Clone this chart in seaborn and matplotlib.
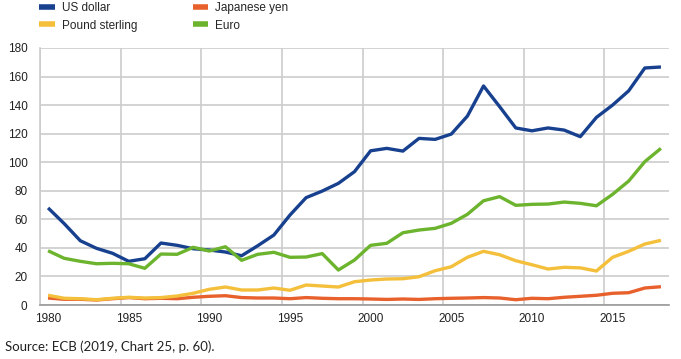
import matplotlib
matplotlib.use("Agg")
import matplotlib.pyplot as plt
import seaborn as sns
import pandas as pd
import numpy as np
from matplotlib.lines import Line2D

years = list(range(1980, 2019))
us_dollar = [68, 57, 45, 39.7, 36.2, 30.6, 32.4, 43.4, 41.8, 39.4, 38.5, 37.1, 34.5, 41.5, 49,
             63, 75.2, 79.8, 85.2, 93.4, 108, 109.7, 107.8, 116.7, 116, 119.7, 132.3, 153.4,
             138.9, 124, 122, 124, 122.5, 117.9, 131.4, 140, 150, 166, 166.7]
japanese_yen = [4.9, 4.0, 4.0, 3.5, 4.4, 5.2, 4.4, 4.7, 4.4, 5.4, 6.1, 6.5, 5.2, 4.9, 4.9,
                4.4, 5.2, 4.7, 4.4, 4.4, 4.2, 3.9, 4.2, 3.9, 4.4, 4.7, 4.9, 5.2, 4.9, 3.7,
                4.7, 4.4, 5.4, 6.1, 6.8, 8.2, 8.6, 11.9, 12.8]
pound_sterling = [6.8, 4.7, 4.4, 3.7, 4.7, 5.4, 4.9, 5.2, 6.3, 8.2, 11, 12.6, 10.5, 10.5, 11.9,
                  10.3, 14, 13.3, 12.6, 16.3, 17.5, 18.2, 18.4, 19.8, 24, 26.8, 33.4, 37.6,
                  35.2, 31, 28.2, 25.2, 26.4, 26, 23.8, 33.4, 37.6, 42.7, 45.3]
euro = [38, 32.7, 30.6, 28.9, 29.2, 28.9, 25.7, 35.7, 35.5, 40.4, 37.8, 40.8, 31.3, 35.5, 36.9,
        33.4, 33.6, 36, 24.5, 31.5, 41.8, 43.2, 50.6, 52.5, 53.7, 57.2, 63.5, 73, 75.9, 69.8,
        70.5, 70.7, 72.1, 71.2, 69.5, 77.5, 86.8, 100.4, 109.7]

series_names = ["US dollar", "Japanese yen", "Pound sterling", "Euro"]
series_values = [us_dollar, japanese_yen, pound_sterling, euro]
colors = ["#17408f", "#e8612c", "#f4bf3a", "#6cb42d"]
x_tick_labels = [1980, 1985, 1990, 1995, 2000, 2005, 2010, 2015]
y_ticks = list(range(0, 181, 20))

df = pd.concat([pd.DataFrame({"year": years, "value": v, "currency": n})
                for n, v in zip(series_names, series_values)], ignore_index=True)

sns.set_style("white")
plt.rcParams["font.family"] = ["Liberation Sans", "DejaVu Sans"]

fig = plt.figure(figsize=(6.81, 3.59), dpi=100)
ax = fig.add_axes([40 / 681, 54 / 359, 629 / 681, 257 / 359])

sns.lineplot(data=df, x="year", y="value", hue="currency", hue_order=series_names,
             palette=colors, linewidth=2.4, ax=ax, legend=False, solid_capstyle="butt")

ax.set_xlim(1979.5, 2018.5)
ax.set_ylim(0, 180)
ax.set_yticks(y_ticks)
ax.set_xticks(x_tick_labels)
ax.set_xticks([y - 0.5 for y in x_tick_labels], minor=True)
ax.tick_params(axis="both", which="both", length=0, labelsize=8.5, colors="#222222")
ax.tick_params(axis="y", pad=9)
ax.tick_params(axis="x", pad=6)
ax.grid(False)
ax.yaxis.grid(True, color="#cccccc", linewidth=1.2)
ax.xaxis.grid(True, which="minor", color="#cccccc", linewidth=1.2)
ax.set_axisbelow(True)
for s in ["top", "right"]:
    ax.spines[s].set_visible(False)
ax.spines["left"].set_color("#cccccc")
ax.spines["left"].set_linewidth(1.2)
ax.spines["bottom"].set_color("#999999")
ax.spines["bottom"].set_linewidth(1.2)
ax.set_xlabel("")
ax.set_ylabel("")

legend_order = ["US dollar", "Pound sterling", "Japanese yen", "Euro"]
handles = [Line2D([0], [0], color=colors[series_names.index(n)], lw=4, solid_capstyle="butt")
           for n in legend_order]
fig.legend(handles, legend_order, ncol=2, loc="upper left", bbox_to_anchor=(0.042, 1.024),
           frameon=False, fontsize=8.5, handlelength=1.3, handletextpad=0.6,
           columnspacing=4.7, labelspacing=0.47)

fig.text(5 / 681, 1 - 347 / 359, "Source: ECB (2019, Chart 25, p. 60).", fontsize=9.5,
         family=["Lato", "DejaVu Sans"], color="#222222", va="center", ha="left")

fig.savefig("out.png", dpi=100)
